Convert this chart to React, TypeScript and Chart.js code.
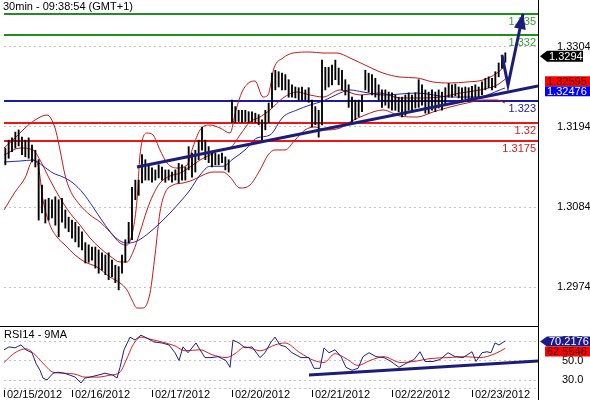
import React, { useEffect, useRef } from 'react';
import { Chart, registerables } from 'chart.js';

Chart.register(...registerables);

const FONT = '"Liberation Sans", Arial, Helvetica, sans-serif';
const TITLE = '30min - 09:38:54 (GMT+1)';
const RSI_TITLE = 'RSI14 - 9MA';

// time axis: hours of trading time since 02/15/2012 00:00 (weekend removed)
const X_MIN = 3.6;
const X_MAX = 163.8;
const dateTickHours = [3.6, 24, 48, 72, 96, 120, 144];
const dateLabels = ['02/15/2012', '02/16/2012', '02/17/2012', '02/20/2012', '02/21/2012', '02/22/2012', '02/23/2012'];

// price axis
const PRICE_MIN = 1.29204;
const PRICE_MAX = 1.33686;
const priceTicks = [1.2974, 1.3084, 1.3194, 1.3304];

// horizontal levels
const levelValues = [1.335, 1.332, 1.323, 1.32, 1.3175];
const levelLabels = ['1.335', '1.332', '1.323', '1.32', '1.3175'];
const levelColors = ['#1f8f1f', '#1f8f1f', '#1a1aa6', '#f01414', '#f01414'];
const levelTextColors = ['#3c9a3c', '#3c9a3c', '#1a1aa6', '#d02020', '#d02020'];

// hourly bars (high / low)
const barHours = [
  4, 5, 6, 7, 8, 9, 10, 11, 12, 13,
  14, 15, 16, 17, 18, 19, 20, 21, 22, 23,
  24, 25, 26, 27, 28, 29, 30, 31, 32, 33,
  34, 35, 36, 37, 38, 39, 40, 41, 42, 43,
  44, 45, 46, 47, 48, 49, 50, 51, 52, 53,
  54, 55, 56, 57, 58, 59, 60, 61, 62, 63,
  64, 65, 66, 67, 68, 69, 70, 71, 72, 73,
  74, 75, 76, 77, 78, 79, 80, 81, 82, 83,
  84, 85, 86, 87, 88, 89, 90, 91, 92, 93,
  94, 95, 96, 97, 98, 99, 100, 101, 102, 103,
  104, 105, 106, 107, 108, 109, 110, 111, 112, 113,
  114, 115, 116, 117, 118, 119, 120, 121, 122, 123,
  124, 125, 126, 127, 128, 129, 130, 131, 132, 133,
  134, 135, 136, 137, 138, 139, 140, 141, 142, 143,
  144, 145, 146, 147, 148, 149, 150, 151, 152, 153,
  154,
];
const barHighs = [
  1.3165, 1.3176, 1.3179, 1.3187, 1.3190, 1.3180, 1.3176, 1.3179, 1.3169, 1.3162,
  1.3149, 1.3114, 1.3094, 1.3096, 1.3094, 1.3098, 1.3094, 1.3096, 1.3080, 1.3070,
  1.3066, 1.3063, 1.3057, 1.3050, 1.3035, 1.3032, 1.3029, 1.3029, 1.3025, 1.3021,
  1.3018, 1.3021, 1.3011, 1.3004, 1.3002, 1.3018, 1.3039, 1.3063, 1.3111, 1.3121,
  1.3121, 1.3156, 1.3149, 1.3142, 1.3138, 1.3135, 1.3142, 1.3139, 1.3135, 1.3135,
  1.3132, 1.3135, 1.3144, 1.3142, 1.3139, 1.3167, 1.3158, 1.3162, 1.3176, 1.3194,
  1.3176, 1.3167, 1.3158, 1.3158, 1.3156, 1.3158, 1.3153, 1.3149, 1.3231, 1.3222,
  1.3217, 1.3217, 1.3217, 1.3215, 1.3215, 1.3213, 1.3211, 1.3204, 1.3217, 1.3227,
  1.3268, 1.3272, 1.3270, 1.3268, 1.3266, 1.3259, 1.3252, 1.3249, 1.3248, 1.3249,
  1.3245, 1.3248, 1.3231, 1.3222, 1.3217, 1.3286, 1.3276, 1.3276, 1.3279, 1.3286,
  1.3275, 1.3272, 1.3259, 1.3252, 1.3235, 1.3231, 1.3231, 1.3238, 1.3272, 1.3268,
  1.3266, 1.3261, 1.3252, 1.3245, 1.3245, 1.3242, 1.3241, 1.3238, 1.3235, 1.3235,
  1.3238, 1.3241, 1.3238, 1.3241, 1.3259, 1.3252, 1.3245, 1.3242, 1.3245, 1.3242,
  1.3245, 1.3242, 1.3248, 1.3254, 1.3252, 1.3253, 1.3249, 1.3248, 1.3249, 1.3248,
  1.3250, 1.3252, 1.3249, 1.3256, 1.3261, 1.3263, 1.3261, 1.3270, 1.3282, 1.3293,
  1.3296,
];
const barLows = [
  1.3142, 1.3151, 1.3160, 1.3165, 1.3168, 1.3156, 1.3153, 1.3151, 1.3146, 1.3139,
  1.3066, 1.3076, 1.3062, 1.3066, 1.3069, 1.3059, 1.3043, 1.3063, 1.3055, 1.3050,
  1.3041, 1.3036, 1.3029, 1.3025, 1.3007, 1.3008, 1.3011, 1.3000, 1.2993, 1.2997,
  1.2991, 1.2984, 1.2988, 1.2980, 1.2970, 1.2993, 1.3008, 1.3035, 1.3039, 1.3094,
  1.3100, 1.3117, 1.3121, 1.3121, 1.3118, 1.3121, 1.3124, 1.3121, 1.3118, 1.3121,
  1.3118, 1.3121, 1.3117, 1.3121, 1.3121, 1.3135, 1.3125, 1.3132, 1.3149, 1.3162,
  1.3149, 1.3145, 1.3139, 1.3142, 1.3142, 1.3145, 1.3135, 1.3132, 1.3200, 1.3200,
  1.3201, 1.3200, 1.3201, 1.3200, 1.3201, 1.3200, 1.3197, 1.3176, 1.3190, 1.3200,
  1.3221, 1.3245, 1.3249, 1.3245, 1.3245, 1.3235, 1.3235, 1.3234, 1.3231, 1.3231,
  1.3231, 1.3228, 1.3194, 1.3197, 1.3180, 1.3197, 1.3245, 1.3249, 1.3252, 1.3259,
  1.3252, 1.3245, 1.3238, 1.3221, 1.3200, 1.3204, 1.3208, 1.3215, 1.3245, 1.3242,
  1.3238, 1.3235, 1.3231, 1.3221, 1.3224, 1.3220, 1.3217, 1.3217, 1.3215, 1.3208,
  1.3210, 1.3217, 1.3217, 1.3220, 1.3221, 1.3224, 1.3213, 1.3213, 1.3217, 1.3215,
  1.3220, 1.3217, 1.3224, 1.3235, 1.3235, 1.3237, 1.3234, 1.3231, 1.3233, 1.3231,
  1.3234, 1.3235, 1.3234, 1.3238, 1.3245, 1.3248, 1.3245, 1.3248, 1.3263, 1.3275,
  1.3283,
];
const lastClose = 1.3294;

// Bollinger bands
const upperHours = [3.6, 6.9, 9.9, 12.9, 16.5, 18.9, 20.4, 21.9, 23.4, 26.4, 29.4, 32.4, 35.4, 38.4, 40.5, 42.3, 43.5, 44.4, 46.5, 48.3, 50.4, 52.5, 55.5, 58.5, 60.3, 62.4, 65.4, 68.4, 71.4, 73.2, 75, 77.4, 78.9, 81.3, 82.8, 84.6, 87.3, 90.3, 95.4, 99.3, 103.5, 107.4, 112.5, 117.3, 122.4, 127.5, 132.3, 137.4, 142.5, 147.3, 151.5, 153.9];
const upperValues = [1.31651, 1.31789, 1.31926, 1.32036, 1.32105, 1.31926, 1.31624, 1.31280, 1.31074, 1.30867, 1.30730, 1.30634, 1.30496, 1.30345, 1.30317, 1.30524, 1.30936, 1.31555, 1.31857, 1.31830, 1.31624, 1.31445, 1.31376, 1.31417, 1.31665, 1.31899, 1.31967, 1.31926, 1.31857, 1.32174, 1.32421, 1.32559, 1.32572, 1.32352, 1.32380, 1.32751, 1.32889, 1.32957, 1.32971, 1.32957, 1.32957, 1.32889, 1.32779, 1.32682, 1.32627, 1.32614, 1.32559, 1.32545, 1.32559, 1.32586, 1.32682, 1.32779];
const midHours = [3.6, 8.4, 12.3, 14.4, 17.4, 20.4, 23.4, 26.4, 29.4, 32.4, 35.4, 38.4, 40.5, 42.3, 44.4, 46.5, 48.3, 50.4, 53.4, 56.4, 59.4, 62.4, 65.4, 68.4, 71.4, 74.4, 77.4, 80.4, 83.4, 87.3, 91.5, 95.4, 99.3, 104.4, 110.4, 116.4, 122.4, 128.4, 134.4, 140.4, 146.4, 151.5, 153.9];
const midValues = [1.31555, 1.31651, 1.31624, 1.31486, 1.31211, 1.30964, 1.30757, 1.30592, 1.30414, 1.30276, 1.30166, 1.30084, 1.30084, 1.30221, 1.30496, 1.30799, 1.31005, 1.31170, 1.31266, 1.31307, 1.31390, 1.31486, 1.31555, 1.31624, 1.31651, 1.31830, 1.32009, 1.32077, 1.32174, 1.32339, 1.32421, 1.32380, 1.32352, 1.32449, 1.32380, 1.32407, 1.32339, 1.32339, 1.32352, 1.32407, 1.32449, 1.32517, 1.32595];
const lowerHours = [3.6, 6.9, 9.9, 12.3, 13.8, 15.3, 17.4, 19.5, 21.9, 24.9, 27.9, 31.5, 35.4, 38.4, 40.5, 42, 43.5, 45.3, 47.4, 48.9, 50.4, 51.9, 54.3, 57.3, 60.3, 63.3, 66.3, 69.3, 71.4, 74.4, 77.4, 80.4, 82.8, 84.9, 87.9, 90.9, 93.9, 96.9, 99.9, 104.4, 107.4, 111.9, 117.3, 122.4, 127.5, 132.3, 137.4, 142.5, 147.3, 151.5, 153.9];
const lowerValues = [1.30799, 1.31046, 1.31239, 1.31486, 1.31417, 1.30936, 1.30592, 1.30427, 1.30317, 1.30180, 1.30084, 1.30015, 1.29877, 1.29795, 1.29699, 1.29561, 1.29451, 1.29451, 1.29657, 1.30180, 1.30771, 1.31032, 1.31142, 1.31170, 1.31211, 1.31280, 1.31321, 1.31321, 1.31252, 1.31101, 1.31142, 1.31349, 1.31555, 1.31624, 1.31624, 1.31761, 1.31899, 1.31940, 1.31899, 1.31926, 1.32009, 1.32105, 1.32174, 1.32091, 1.32077, 1.32146, 1.32215, 1.32270, 1.32311, 1.32311, 1.32270];

// moving average (blue)
const maHours = [3.6, 8.4, 12.3, 15.3, 18.3, 21.3, 24.3, 27.3, 30.3, 33.3, 36.3, 39, 40.8, 43.5, 47.4, 50.4, 53.4, 56.4, 59.4, 62.4, 65.4, 69.3, 72.3, 75.9, 79.5, 83.4, 87.3, 91.5, 95.4, 99.3, 104.4, 107.4, 111.3, 117.3, 127.5, 137.4, 145.5, 153.9];
const maValues = [1.31459, 1.31472, 1.31486, 1.31404, 1.31307, 1.31252, 1.31170, 1.31032, 1.30840, 1.30634, 1.30455, 1.30359, 1.30345, 1.30372, 1.30496, 1.30620, 1.30757, 1.30909, 1.31074, 1.31280, 1.31400, 1.31400, 1.31500, 1.31624, 1.31789, 1.31830, 1.32077, 1.32174, 1.32242, 1.32297, 1.32407, 1.32449, 1.32421, 1.32380, 1.32407, 1.32352, 1.32352, 1.32476];

// drawn trend line and arrow
const trendHours = [43.5, 163.8];
const trendValues = [1.31391, 1.32504];
const arrowHours = [153.0, 154.8, 159.3];
const arrowValues = [1.3293, 1.32517, 1.33493];

// RSI panel
const RSI_MIN = 21.8;
const RSI_MAX = 84.4;
const rsiTicks = [30, 50, 70];
const rsiHours = [3.6, 5.1, 6.9, 8.7, 10.2, 12, 13.2, 14.4, 15.3, 16.5, 18.3, 19.8, 21.6, 23.4, 24.9, 26.7, 27.9, 29.4, 31.8, 33.9, 36.3, 37.5, 38.4, 39.6, 41.4, 42.9, 44.7, 46.5, 48.6, 51, 53.1, 54.9, 56.1, 57.3, 58.8, 61.2, 62.4, 63.9, 65.7, 67.8, 70.2, 71.4, 72.3, 74.1, 75.9, 78, 80.4, 81.9, 83.7, 84.9, 86.4, 88.2, 90, 92.7, 95.1, 96.6, 98.4, 99.6, 101.1, 102.9, 104.7, 106.2, 108, 109.8, 111.3, 113.1, 115.2, 117.6, 119.7, 122.1, 124.2, 126.6, 128.4, 129.9, 132.3, 134.4, 136.8, 138.9, 141.3, 144, 145.2, 147, 148.5, 149.7, 150.9, 152.1, 154];
const rsiValues = [61, 64, 63, 66, 61, 58, 47, 40, 32, 30, 37, 38, 37, 35, 33, 27, 32, 33, 35, 37, 35, 32, 43, 61, 74, 71, 76, 73, 69, 68, 66, 58, 50, 64, 58, 68, 61, 53, 53, 54, 50, 43, 71, 68, 63, 64, 53, 58, 69, 74, 66, 64, 58, 53, 53, 42, 42, 63, 58, 61, 54, 43, 40, 42, 54, 58, 54, 53, 49, 43, 47, 51, 59, 49, 49, 51, 58, 54, 53, 59, 49, 58, 59, 58, 68, 66, 70.2176];
const rsiMaHours = [3.6, 6.9, 10.2, 13.2, 15.9, 18.3, 21.6, 24.9, 27.9, 31.8, 35.4, 38.4, 40.2, 42.3, 44.7, 47.4, 51, 54.9, 57.9, 62.4, 66, 70.2, 72.9, 75.9, 80.4, 84.9, 87.9, 92.4, 96.6, 99.6, 102.9, 106.2, 109.8, 113.4, 117.6, 122.4, 126.6, 131.4, 136.8, 141.9, 146.4, 150.9, 154];
const rsiMaValues = [48, 58, 62, 55, 45, 38, 37, 36, 33, 33, 35, 38, 50, 66, 74, 72, 69, 65, 60, 61, 56, 53, 57, 64, 60, 66, 68, 58, 50, 48, 57, 52, 45, 50, 54, 48, 49, 52, 53, 54, 53, 57, 62.5546];
const rsiTrendHours = [95.1, 163.8];
const rsiTrendValues = [35.1, 49.5];

const NAVY = '#1c1c7a';

const pts = (xs: number[], ys: number[]) => xs.map((x, i) => ({ x, y: ys[i] }));

function drawTag(ctx: CanvasRenderingContext2D, left: number, right: number, cy: number, h: number, bg: string, fg: string, text: string, arrow: boolean) {
  ctx.fillStyle = bg;
  ctx.beginPath();
  if (arrow) {
    ctx.moveTo(left, cy);
    ctx.lineTo(left + 7, cy - h / 2);
    ctx.lineTo(right, cy - h / 2);
    ctx.lineTo(right, cy + h / 2);
    ctx.lineTo(left + 7, cy + h / 2);
  } else {
    ctx.rect(left, cy - h / 2, right - left, h);
  }
  ctx.closePath();
  ctx.fill();
  ctx.fillStyle = fg;
  ctx.textAlign = 'left';
  ctx.textBaseline = 'middle';
  ctx.fillText(text, left + (arrow ? 9 : 2), cy + 0.5);
}

const mainOverlay = {
  id: 'mainOverlay',
  beforeDatasetsDraw(chart: any) {
    const { ctx, chartArea, scales } = chart;
    const y = scales.y;
    ctx.save();
    levelValues.forEach((v, i) => {
      const py = Math.round(y.getPixelForValue(v));
      ctx.fillStyle = levelColors[i];
      ctx.fillRect(chartArea.left, py - 1, chartArea.right - chartArea.left, 2);
    });
    ctx.font = `11px ${FONT}`;
    ctx.textAlign = 'right';
    ctx.textBaseline = 'middle';
    levelValues.forEach((v, i) => {
      const py = y.getPixelForValue(v);
      ctx.fillStyle = levelTextColors[i];
      ctx.fillText(levelLabels[i], chartArea.right - 2, py + 8);
    });
    ctx.restore();
  },
  afterDraw(chart: any) {
    const { ctx, chartArea, scales } = chart;
    const x = scales.x;
    const y = scales.y;
    ctx.save();
    // arrow head
    const n = arrowHours.length;
    const ax = x.getPixelForValue(arrowHours[n - 2]);
    const ay = y.getPixelForValue(arrowValues[n - 2]);
    const bx = x.getPixelForValue(arrowHours[n - 1]);
    const by = y.getPixelForValue(arrowValues[n - 1]);
    const len = Math.hypot(bx - ax, by - ay);
    const ux = (bx - ax) / len;
    const uy = (by - ay) / len;
    const L = 15;
    const W = 6;
    const cx = bx - ux * L;
    const cy = by - uy * L;
    ctx.fillStyle = NAVY;
    ctx.beginPath();
    ctx.moveTo(bx + ux * 1, by + uy * 1);
    ctx.lineTo(cx - uy * W, cy + ux * W);
    ctx.lineTo(cx + uy * W, cy - ux * W);
    ctx.closePath();
    ctx.fill();

    // title
    ctx.font = `11px ${FONT}`;
    ctx.fillStyle = '#000';
    ctx.textAlign = 'left';
    ctx.textBaseline = 'middle';
    ctx.fillText(TITLE, 3, 7);

    // frame lines
    ctx.fillStyle = '#000';
    ctx.fillRect(chartArea.right, 0, 1, chart.height);
    ctx.fillRect(0, chartArea.bottom, chartArea.right, 1);

    // value tags
    const r = chartArea.right;
    const c1 = y.getPixelForValue(lastClose) + 2;
    drawTag(ctx, r + 2, r + 45, c1, 11, '#000000', '#ffffff', lastClose.toFixed(4), true);
    const midLast = midValues[midValues.length - 1];
    const maLast = maValues[maValues.length - 1];
    const c2 = y.getPixelForValue(midLast) + 2;
    const c3 = Math.max(y.getPixelForValue(maLast) + 2, c2 + 10);
    drawTag(ctx, r + 7, 590, c2, 10, '#ff0000', '#3a0000', midLast.toFixed(5), false);
    drawTag(ctx, r + 7, 590, c3, 10, '#0000ff', '#ffffff', maLast.toFixed(5), false);
    ctx.restore();
  },
};

const rsiOverlay = {
  id: 'rsiOverlay',
  afterDraw(chart: any) {
    const { ctx, chartArea, scales } = chart;
    const x = scales.x;
    const y = scales.y;
    ctx.save();
    ctx.font = `11px ${FONT}`;
    ctx.fillStyle = '#000';
    ctx.textAlign = 'left';
    ctx.textBaseline = 'middle';
    ctx.fillText(RSI_TITLE, 4, 8);

    // bottom dotted line
    ctx.strokeStyle = '#c8c8c8';
    ctx.lineWidth = 1;
    ctx.setLineDash([2, 3]);
    ctx.beginPath();
    ctx.moveTo(chartArea.left, chartArea.bottom + 0.5);
    ctx.lineTo(chartArea.right, chartArea.bottom + 0.5);
    ctx.stroke();
    ctx.setLineDash([]);

    // vertical axis line
    ctx.fillStyle = '#000';
    ctx.fillRect(chartArea.right, 0, 1, chart.height);

    // date ticks
    dateTickHours.forEach((h, i) => {
      const px = Math.round(x.getPixelForValue(h));
      ctx.fillStyle = '#000';
      ctx.fillRect(px, chartArea.bottom + 2, 1, 7);
      ctx.fillText(dateLabels[i], px + 3, chartArea.bottom + 6.5);
    });

    // value tags
    const r = chartArea.right;
    const rsiLast = rsiValues[rsiValues.length - 1];
    const maLast = rsiMaValues[rsiMaValues.length - 1];
    const c1 = y.getPixelForValue(rsiLast) + 0.7;
    const c2 = Math.max(y.getPixelForValue(maLast) + 0.7, c1 + 10);
    drawTag(ctx, r + 2, 590, c1, 10, '#1a1a8a', '#ffffff', rsiLast.toFixed(4), true);
    drawTag(ctx, r + 7, 590, c2, 10, '#ff0000', '#3a0000', maLast.toFixed(4), false);
    ctx.restore();
  },
};

function rightAxis(min: number, max: number, tickValues: number[], decimals: number, padding: number) {
  return {
    position: 'right',
    min,
    max,
    beginAtZero: false,
    afterFit(scale: any) {
      scale.width = 52;
      scale.paddingTop = 0;
      scale.paddingBottom = 0;
    },
    afterBuildTicks(scale: any) {
      scale.ticks = tickValues.map((v) => ({ value: v }));
    },
    ticks: {
      callback: (v: any) => Number(v).toFixed(decimals),
      color: '#000',
      font: { family: FONT, size: 11 },
      padding,
    },
    grid: { color: '#c4c4c4', drawTicks: false, lineWidth: 1 },
    border: { display: false, dash: [2, 3] },
  };
}

export default function App() {
  const mainRef = useRef<HTMLCanvasElement>(null);
  const rsiRef = useRef<HTMLCanvasElement>(null);

  useEffect(() => {
    const mainChart = new Chart(mainRef.current as HTMLCanvasElement, {
      type: 'line',
      data: {
        datasets: [
          { type: 'line', data: pts(trendHours, trendValues), borderColor: NAVY, borderWidth: 3, pointRadius: 0, order: 0 },
          { type: 'line', data: pts(arrowHours, arrowValues), borderColor: NAVY, borderWidth: 3, pointRadius: 0, order: 0, borderJoinStyle: 'miter' },
          {
            type: 'bar',
            data: barHours.map((h, i) => ({ x: h, y: [barLows[i], barHighs[i]] })),
            backgroundColor: '#000000',
            borderWidth: 0,
            barThickness: 1.2,
            order: 1,
          },
          { type: 'line', data: pts(maHours, maValues), borderColor: '#2424c4', borderWidth: 1, pointRadius: 0, cubicInterpolationMode: 'monotone', order: 2 },
          { type: 'line', data: pts(upperHours, upperValues), borderColor: '#c81818', borderWidth: 1, pointRadius: 0, cubicInterpolationMode: 'monotone', order: 3 },
          { type: 'line', data: pts(midHours, midValues), borderColor: '#c81818', borderWidth: 1, pointRadius: 0, cubicInterpolationMode: 'monotone', order: 3 },
          { type: 'line', data: pts(lowerHours, lowerValues), borderColor: '#c81818', borderWidth: 1, pointRadius: 0, cubicInterpolationMode: 'monotone', order: 3 },
        ] as any,
      },
      options: {
        responsive: false,
        animation: false,
        devicePixelRatio: 1,
        events: [],
        layout: { padding: { left: 4, right: 0, top: 0, bottom: 1 } },
        plugins: { legend: { display: false }, tooltip: { enabled: false }, title: { display: false } },
        scales: {
          x: { type: 'linear', min: X_MIN, max: X_MAX, display: false, offset: false, grid: { offset: false } },
          y: rightAxis(PRICE_MIN, PRICE_MAX, priceTicks, 4, 19),
        } as any,
      },
      plugins: [mainOverlay],
    } as any);

    const rsiChart = new Chart(rsiRef.current as HTMLCanvasElement, {
      type: 'line',
      data: {
        datasets: [
          { data: pts(rsiTrendHours, rsiTrendValues), borderColor: NAVY, borderWidth: 3, pointRadius: 0, order: 0 },
          { data: pts(rsiHours, rsiValues), borderColor: '#1e1e86', borderWidth: 1, pointRadius: 0, order: 1 },
          { data: pts(rsiMaHours, rsiMaValues), borderColor: '#dd2020', borderWidth: 1, pointRadius: 0, cubicInterpolationMode: 'monotone', order: 2 },
        ] as any,
      },
      options: {
        responsive: false,
        animation: false,
        devicePixelRatio: 1,
        events: [],
        layout: { padding: { left: 4, right: 0, top: 0, bottom: 12 } },
        plugins: { legend: { display: false }, tooltip: { enabled: false }, title: { display: false } },
        scales: {
          x: { type: 'linear', min: X_MIN, max: X_MAX, display: false, offset: false },
          y: rightAxis(RSI_MIN, RSI_MAX, rsiTicks, 1, 24),
        } as any,
      },
      plugins: [rsiOverlay],
    } as any);

    return () => {
      mainChart.destroy();
      rsiChart.destroy();
    };
  }, []);

  return (
    <div style={{ position: 'fixed', left: 0, top: 0, width: 590, height: 400, background: '#ffffff' }}>
      <canvas ref={mainRef} width={590} height={327} style={{ position: 'absolute', left: 0, top: 0, width: 590, height: 327, display: 'block' }} />
      <canvas ref={rsiRef} width={590} height={73} style={{ position: 'absolute', left: 0, top: 327, width: 590, height: 73, display: 'block' }} />
    </div>
  );
}
